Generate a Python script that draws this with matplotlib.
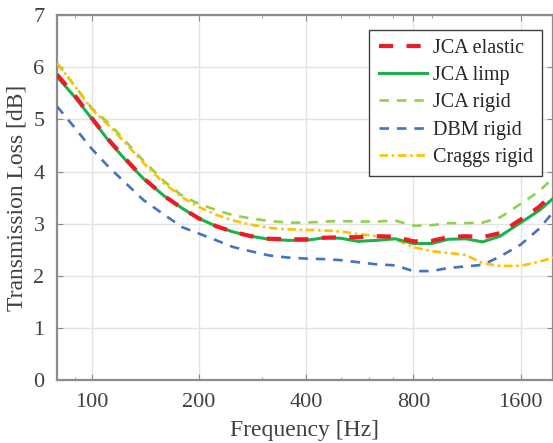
import numpy as np
import matplotlib
matplotlib.use('Agg')
import matplotlib.pyplot as plt
from matplotlib.ticker import FixedLocator, NullFormatter

plt.rcParams['font.family'] = ['Liberation Serif', 'DejaVu Serif']

# 频率点 (Hz)
freq = [80, 90, 100, 112, 125, 140, 160, 180, 200, 224, 250, 280, 315, 355, 400,
        450, 500, 560, 630, 710, 800, 900, 1000, 1120, 1250, 1400, 1600, 1800, 2000]

jca_elastic = [5.86, 5.45, 5.03, 4.60, 4.23, 3.87, 3.53, 3.29, 3.10, 2.95, 2.84, 2.76, 2.71, 2.70, 2.70,
               2.73, 2.74, 2.74, 2.76, 2.75, 2.66, 2.67, 2.74, 2.76, 2.74, 2.82, 3.08, 3.32, 3.62]
jca_limp = [5.82, 5.42, 5.02, 4.58, 4.21, 3.86, 3.53, 3.29, 3.10, 2.95, 2.84, 2.76, 2.70, 2.68, 2.68,
            2.73, 2.72, 2.66, 2.68, 2.71, 2.62, 2.62, 2.70, 2.71, 2.65, 2.76, 3.02, 3.25, 3.52]
jca_rigid = [6.08, 5.63, 5.22, 4.92, 4.57, 4.20, 3.81, 3.53, 3.38, 3.26, 3.16, 3.10, 3.05, 3.02, 3.02,
             3.04, 3.05, 3.04, 3.04, 3.06, 2.96, 2.97, 3.01, 3.01, 3.02, 3.12, 3.38, 3.62, 3.92]
dbm_rigid = [5.25, 4.83, 4.44, 4.08, 3.77, 3.45, 3.17, 2.93, 2.81, 2.68, 2.55, 2.47, 2.39, 2.35, 2.33,
             2.32, 2.30, 2.26, 2.22, 2.20, 2.09, 2.09, 2.15, 2.18, 2.21, 2.37, 2.60, 2.90, 3.27]
craggs_rigid = [6.08, 5.63, 5.20, 4.88, 4.53, 4.16, 3.77, 3.50, 3.32, 3.17, 3.06, 2.98, 2.92, 2.89, 2.88,
                2.87, 2.85, 2.80, 2.76, 2.70, 2.55, 2.47, 2.44, 2.40, 2.24, 2.19, 2.19, 2.27, 2.36]

xticks = [100, 200, 400, 800, 1600]
xminor = [90, 300, 500, 600, 700, 900]

fig = plt.figure(figsize=(5.53, 4.43), dpi=100)
ax = fig.add_axes([0.103, 0.142, 0.897, 0.824])

ax.plot(freq, jca_elastic, color='#ED1C24', lw=3.0, dashes=(3.4, 3.2), label='JCA elastic', zorder=5)
ax.plot(freq, jca_limp, color='#1DB14B', lw=2.2, label='JCA limp', zorder=4)
ax.plot(freq, jca_rigid, color='#92D050', lw=1.9, dashes=(3.6, 3.0), label='JCA rigid', zorder=3)
ax.plot(freq, dbm_rigid, color='#4472C4', lw=1.9, dashes=(3.6, 3.0), label='DBM rigid', zorder=3)
ax.plot(freq, craggs_rigid, color='#FFC000', lw=1.9, dashes=(3.2, 1.4, 1.0, 1.4), label='Craggs rigid', zorder=3)

ax.set_xscale('log')
ax.set_xlim(80, 1970)
ax.set_ylim(0, 7)
ax.xaxis.set_major_locator(FixedLocator(xticks))
ax.xaxis.set_minor_locator(FixedLocator(xminor))
ax.xaxis.set_minor_formatter(NullFormatter())
ax.set_xticklabels([str(t) for t in xticks])
ax.set_yticks(range(0, 8))

ax.grid(True, which='major', color='#e3e3e3', lw=1.0)
ax.set_axisbelow(True)
for s in ax.spines.values():
    s.set_color('#8c8c8c')
    s.set_linewidth(1.6)
ax.tick_params(which='both', direction='in', top=True, right=True, colors='#8c8c8c',
               labelcolor='#404040', labelsize=16, pad=9)
ax.tick_params(which='major', length=4)
ax.tick_params(which='minor', length=2.5)

ax.set_xlabel('Frequency [Hz]', fontsize=17, color='#404040', labelpad=6)
ax.set_ylabel('Transmission Loss [dB]', fontsize=17, color='#404040', labelpad=4)

leg = ax.legend(loc='upper right', bbox_to_anchor=(0.978, 0.959), borderaxespad=0,
                fontsize=14.5, fancybox=False, framealpha=1, edgecolor='#404040',
                handlelength=2.4, handletextpad=0.3, labelspacing=0.4, borderpad=0.45)
leg.get_frame().set_linewidth(1.0)
for t in leg.get_texts():
    t.set_color('#262626')

plt.savefig('out.png', dpi=100)
